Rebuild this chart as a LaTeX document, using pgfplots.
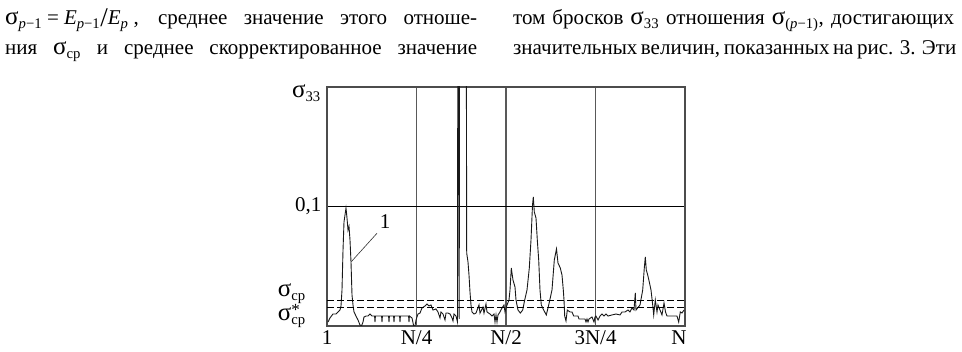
\documentclass[border=0pt]{standalone}
\usepackage{fontspec}
\setmainfont{Liberation Serif}
\usepackage{pgfplots}
\pgfplotsset{compat=1.18}
\newcommand\sig{{\fontsize{25}{25}\selectfont σ}}
\begin{document}
\begin{tikzpicture}[x=1pt,y=1pt]
\useasboundingbox (0,0) rectangle (962,352);
\fill[white] (0,0) rectangle (962,352);
% text lines above the figure
\begin{scope}[every node/.style={inner sep=0pt,font=\fontsize{21}{25}\selectfont}]
\node[anchor=base west] at (5,327) {\makebox[472pt][s]{\sig\textsubscript{\textit{p}−1}\hspace{5pt}=\hspace{5pt}\textit{E}\textsubscript{\textit{p}−1}{\fontsize{27}{27}\selectfont\raisebox{-2pt}{/}}\textit{E}\textsubscript{\textit{p}}\hspace{5pt}, среднее значение этого отноше-}};
\node[anchor=base west] at (5,297) {\makebox[472pt][s]{ния \sig\textsubscript{ср} и среднее скорректированное значение}};
\node[anchor=base west] at (513,327) {\makebox[441pt][s]{том бросков \sig\textsubscript{33} отношения \sig\textsubscript{(\textit{p}−1)}, достигающих}};
\node[anchor=base west] at (513,297) {\makebox[441pt][s]{значительных величин, показанных на рис. 3. Эти}};
\end{scope}
\begin{axis}[
  at={(327pt,26pt)}, anchor=south west,
  scale only axis, width=358pt, height=239pt,
  xmin=0, xmax=358, ymin=0, ymax=0.1992,
  xtick={0,89.5,179,268.5,358},
  xticklabels={1,N/4,N/2,3N/4,\hspace*{-12pt}N},
  ytick={0.1}, yticklabels={0{,}1},
  major tick length=0pt,
  xmajorgrids, ymajorgrids,
  x grid style={black!65, line width=1.5pt},
  y grid style={black, line width=0.8pt},
  axis line style={black!70, line width=1.5pt},
  tick label style={font=\fontsize{21}{21}\selectfont, black},
  xticklabel style={yshift=-1pt},
  yticklabel style={xshift=-2pt},
  clip=true,
]
\addplot[black!90, line width=0.9pt] coordinates {
(1,0.0033)(3,0.0067)(6,0.010)(9,0.010)(11,0.0117)(13,0.0133)(14,0.0167)(15,0.030)(16,0.063)(17,0.0867)(18,0.0925)(19,0.0983)(20,0.09)(21,0.08)(22,0.083)(23,0.0717)(24,0.0533)(25,0.026)(26,0.0175)(27,0.0117)(29,0.0083)(31,0.005)(33,0.0008)(34.5,0)(36,0.0033)(37,0.0075)(39,0.0083)(41,0.0083)(43,0.01)(45,0.0083)
(47.6,0.0083)(48,0.0033)(48.4,0.0083)
(54.6,0.0083)(55,0.0033)(55.4,0.0083)
(61.6,0.0083)(62,0.0033)(62.4,0.0083)
(66.6,0.0083)(67,0.0033)(67.4,0.0083)
(72.6,0.0083)(73,0.0033)(73.4,0.0083)
(81.6,0.0083)(82,0.0033)(82.4,0.0083)
(85,0.0067)(86.7,0)(88,0)(89,0.005)(91,0.01)(93,0.0108)(95,0.015)(98,0.0167)(100,0.0183)(102,0.0167)(104,0.0175)(106,0.0133)(109,0.0142)(111,0.0117)(113,0.0067)(114,0.0117)(116,0.01)(118,0.005)(119,0.0108)(121,0.0108)(123,0.01)(125,0.0067)(126,0.0042)(127,0.01)(129,0.0083)(130.5,0.0033)(130.8,0.25)(131.6,0.25)(132.2,0.006)(132.6,0.25)(139.3,0.25)(139.7,0.0608)(141,0.0533)(142,0.0425)(143,0.0283)(144,0.0175)(145,0.0117)(147,0.01)(149,0.0108)(152,0.0175)(153,0.0108)(156,0.0158)(157,0.0108)(159,0.0183)(160,0.0117)(163,0.01)(165,0.0083)(167,0.01)(168,0.0033)(169,0.0092)(170,0.0033)(171,0.0092)(173,0.0117)(175,0.015)(177,0.0175)(178,0.0117)(180,0.0175)(182,0.0217)(183,0.03)(184.3,0.0483)(186,0.0383)(188,0.0325)(189,0.0217)(191,0.0133)(193.3,0.0108)(195.7,0.0133)(197.7,0.0217)(200,0.03)(202.3,0.0483)(204,0.0717)(205.5,0.1008)(206.3,0.1075)(207.3,0.095)(209,0.09)(210.3,0.0717)(211.7,0.055)(213,0.03)(214.3,0.0175)(216.7,0.0133)(219.3,0.0092)(221.7,0.0175)(225,0.03)(227.3,0.055)(229.5,0.0642)(231,0.0525)(233.3,0.0483)(235,0.0425)(236.3,0.03)(237,0.0217)(237.7,0.0083)(239,0.0042)(240.3,0.0133)(243,0.0117)(245,0.0117)(246.7,0.0083)(251,0.0083)(252,0.0058)(258,0.0058)(259,0.0033)(260,0.0058)(261,0.0033)(262,0.0058)(265,0.0075)(267,0.0033)(268,0.0075)(269,0.0083)(271,0.005)(273,0.0083)(275,0.01)(277,0.0083)(279,0.01)(281,0.0083)(285,0.0092)(289,0.01)(293,0.0092)(295,0.0117)(298,0.0117)(301,0.0133)(303,0.0117)(305,0.015)(307,0.0133)(308.3,0.0275)(309,0.0133)(313,0.0175)(315.7,0.03)(317.3,0.0483)(318.3,0.0575)(319.3,0.0467)(320.7,0.0425)(322.3,0.0367)(324,0.03)(325.7,0.0175)(326.7,0.0092)(328.3,0.0217)(330,0.0117)(331,0.0175)(333,0.0133)(335,0.0092)(337,0.0192)(338.5,0.0117)(340,0.0083)(345,0.0083)(350,0.0083)(351.7,0.0033)(353.3,0.0117)(355,0.0108)(357,0.0133)
};
\addplot[black, line width=0.7pt, dash pattern=on 7pt off 3pt] coordinates {(0,0.0213)(358,0.0213)};
\addplot[black, line width=0.7pt, dash pattern=on 7pt off 3pt] coordinates {(0,0.0158)(358,0.0158)};
\draw[black!80, line width=0.6pt] (axis cs:24.3,0.0536) -- (axis cs:50,0.0773);
\end{axis}
% labels outside the axis box (tikz coordinates: pixel x, 352 - pixel y)
\begin{scope}[every node/.style={inner sep=0pt,font=\fontsize{21}{21}\selectfont}]
\node[anchor=base] at (385,123) {1};
\node[anchor=base east] at (321,254) {\sig\textsubscript{33}};
\node[anchor=base east] at (306,55) {\sig\textsubscript{ср}};
\node[anchor=base east] at (306,31) {\sig\makebox[0pt][l]{\raisebox{5pt}{\fontsize{17}{17}\selectfont *}}\textsubscript{ср}};
\end{scope}
\end{tikzpicture}
\end{document}
